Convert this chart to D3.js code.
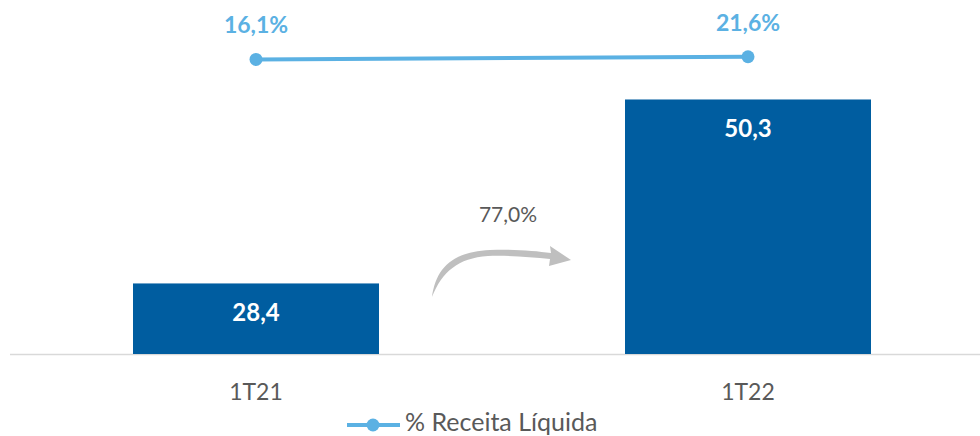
<!DOCTYPE html>
<html><head><meta charset="utf-8">
<script src="https://cdn.jsdelivr.net/npm/d3@7"></script>
<style>body{margin:0;background:#fff}svg{display:block}</style>
</head><body>
<svg id="c" width="980" height="436"></svg>
<script>
const categories = ["1T21", "1T22"];
const barValues = [28.4, 50.3];
const barLabels = ["28,4", "50,3"];
const pctValues = [16.1, 21.6];
const pctLabels = ["16,1%", "21,6%"];
const growthLabel = "77,0%";
const legendLabel = "% Receita Líquida";

const svg = d3.select("#c");
const font = "Lato, 'Open Sans', sans-serif";
const baseY = 354, topY = 18;
const x = d3.scaleBand().domain(categories).range([10, 994]).paddingInner(0.5).paddingOuter(0.25);
const y = d3.scaleLinear().domain([20, 60]).range([baseY, topY]);
const y2 = d3.scaleLinear().domain([-580, 100]).range([baseY, topY]);

// axis line
svg.append("line").attr("x1", 10).attr("x2", 980).attr("y1", baseY + 0.5).attr("y2", baseY + 0.5)
  .attr("stroke", "#D9D9D9").attr("stroke-width", 1.5);

// bars
svg.selectAll("rect.bar").data(barValues).join("rect").attr("class", "bar")
  .attr("x", (d, i) => x(categories[i])).attr("width", x.bandwidth())
  .attr("y", d => y(d)).attr("height", d => baseY - y(d)).attr("fill", "#005DA0");

svg.selectAll("text.bl").data(barValues).join("text").attr("class", "bl")
  .attr("x", (d, i) => x(categories[i]) + x.bandwidth() / 2)
  .attr("y", d => y(d) + 38).attr("text-anchor", "middle")
  .attr("font-family", font).attr("font-weight", "bold").attr("font-size", 24)
  .attr("fill", "#fff").text((d, i) => barLabels[i]);

// category labels
svg.selectAll("text.cat").data(categories).join("text").attr("class", "cat")
  .attr("x", d => x(d) + x.bandwidth() / 2).attr("y", 400).attr("text-anchor", "middle")
  .attr("font-family", font).attr("font-size", 23).attr("fill", "#595959").text(d => d);

// line series
const lineColor = "#5BB1E3";
const cx = i => x(categories[i]) + x.bandwidth() / 2;
svg.append("path").datum(pctValues)
  .attr("d", d3.line().x((d, i) => cx(i)).y(d => y2(d)))
  .attr("fill", "none").attr("stroke", lineColor).attr("stroke-width", 4);
svg.selectAll("circle.pt").data(pctValues).join("circle").attr("class", "pt")
  .attr("cx", (d, i) => cx(i)).attr("cy", d => y2(d)).attr("r", 6.5).attr("fill", lineColor);
svg.selectAll("text.pl").data(pctValues).join("text").attr("class", "pl")
  .attr("x", (d, i) => cx(i)).attr("y", d => y2(d) - 26).attr("text-anchor", "middle")
  .attr("font-family", font).attr("font-weight", "bold").attr("font-size", 23)
  .attr("fill", lineColor).text((d, i) => pctLabels[i]);

// growth arrow
const ax = (x(categories[0]) + x.bandwidth() + x(categories[1])) / 2;
const g = svg.append("g").attr("transform", `translate(${ax - 502},0)`);
g.append("path")
  .attr("d", "M432,297 C436,268 452,252 490,250 C515,249 535,251 551,253 L550,246 L571,260 L549,266 L550,259 C530,257 505,255 488,256 C458,258 442,272 432,297 Z")
  .attr("fill", "#BFBFBF");
svg.append("text").attr("x", ax + 6).attr("y", 222).attr("text-anchor", "middle")
  .attr("font-family", font).attr("font-size", 21).attr("fill", "#595959").text(growthLabel);

// legend
const lg = svg.append("g").attr("transform", "translate(347,425)");
lg.append("line").attr("x1", 0).attr("x2", 53).attr("y1", 0).attr("y2", 0)
  .attr("stroke", lineColor).attr("stroke-width", 4);
lg.append("circle").attr("cx", 26).attr("cy", 0).attr("r", 6.5).attr("fill", lineColor);
lg.append("text").attr("x", 58).attr("y", 5.5).attr("font-family", font).attr("font-size", 25)
  .attr("fill", "#595959").text(legendLabel);
</script>
</body></html>
